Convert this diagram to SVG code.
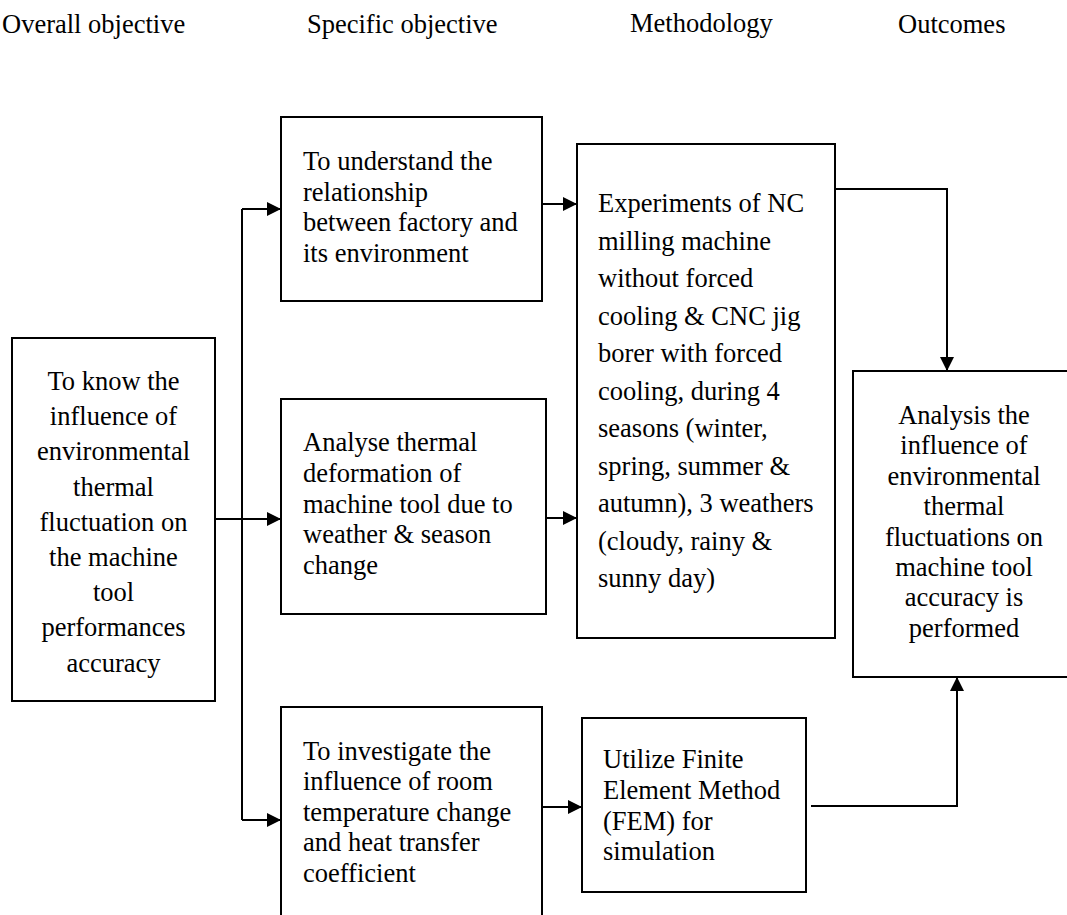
<svg xmlns="http://www.w3.org/2000/svg" width="1067" height="915" viewBox="0 0 1067 915">
  <style>
    text { font-family: "Liberation Serif", "Times New Roman", serif; font-size: 26.5px; fill: #000; }
    .box { fill: #fff; stroke: #000; stroke-width: 2; }
    .wire { fill: none; stroke: #000; stroke-width: 2; }
    .mid { text-anchor: middle; }
  </style>
  <defs>
    <marker id="arrow" markerUnits="userSpaceOnUse" markerWidth="15" markerHeight="15" refX="14" refY="7" orient="auto">
      <path d="M0,0 L14,7 L0,14 z" fill="#000"/>
    </marker>
  </defs>
  <rect width="1067" height="915" fill="#fff"/>

  <!-- column headings -->
  <g id="headings">
    <text x="2" y="33">Overall objective</text>
    <text x="307" y="33">Specific objective</text>
    <text x="630" y="32">Methodology</text>
    <text x="898" y="33">Outcomes</text>
  </g>

  <g id="overall">
    <rect class="box" x="12" y="338" width="203" height="363"/>
    <text class="mid" x="113.5" y="390">To know the</text>
    <text class="mid" x="113.5" y="425.2">influence of</text>
    <text class="mid" x="113.5" y="460.4">environmental</text>
    <text class="mid" x="113.5" y="495.6">thermal</text>
    <text class="mid" x="113.5" y="530.8">fluctuation on</text>
    <text class="mid" x="113.5" y="566">the machine</text>
    <text class="mid" x="113.5" y="601.2">tool</text>
    <text class="mid" x="113.5" y="636.4">performances</text>
    <text class="mid" x="113.5" y="671.6">accuracy</text>
  </g>

  <g id="spec-relationship">
    <rect class="box" x="281" y="117" width="261" height="184"/>
    <text x="303" y="170">To understand the</text>
    <text x="303" y="200.7">relationship</text>
    <text x="303" y="231.4">between factory and</text>
    <text x="303" y="262.1">its environment</text>
  </g>

  <g id="spec-deformation">
    <rect class="box" x="281" y="399" width="265" height="215"/>
    <text x="303" y="451">Analyse thermal</text>
    <text x="303" y="481.8">deformation of</text>
    <text x="303" y="512.6">machine tool due to</text>
    <text x="303" y="543.4">weather &amp; season</text>
    <text x="303" y="574.2">change</text>
  </g>

  <g id="spec-temperature">
    <path class="box" d="M281,920 V707 H542 V920"/>
    <text x="303" y="760">To investigate the</text>
    <text x="303" y="790.4">influence of room</text>
    <text x="303" y="820.8">temperature change</text>
    <text x="303" y="851.2">and heat transfer</text>
    <text x="303" y="881.6">coefficient</text>
  </g>

  <g id="method-experiments">
    <rect class="box" x="577" y="144" width="258" height="494"/>
    <text x="598" y="212">Experiments of NC</text>
    <text x="598" y="249.5">milling machine</text>
    <text x="598" y="287">without forced</text>
    <text x="598" y="324.5">cooling &amp; CNC jig</text>
    <text x="598" y="362">borer with forced</text>
    <text x="598" y="399.5">cooling, during 4</text>
    <text x="598" y="437">seasons (winter,</text>
    <text x="598" y="474.5">spring, summer &amp;</text>
    <text x="598" y="512">autumn), 3 weathers</text>
    <text x="598" y="549.5">(cloudy, rainy &amp;</text>
    <text x="598" y="587">sunny day)</text>
  </g>

  <g id="method-fem">
    <rect class="box" x="582" y="718" width="224" height="174"/>
    <text x="603" y="768">Utilize Finite</text>
    <text x="603" y="798.8">Element Method</text>
    <text x="603" y="829.6">(FEM) for</text>
    <text x="603" y="860.4">simulation</text>
  </g>

  <g id="outcome">
    <rect class="box" x="853" y="371" width="222" height="306"/>
    <text class="mid" x="964" y="424">Analysis the</text>
    <text class="mid" x="964" y="454.4">influence of</text>
    <text class="mid" x="964" y="484.8">environmental</text>
    <text class="mid" x="964" y="515.2">thermal</text>
    <text class="mid" x="964" y="545.6">fluctuations on</text>
    <text class="mid" x="964" y="576">machine tool</text>
    <text class="mid" x="964" y="606.4">accuracy is</text>
    <text class="mid" x="964" y="636.8">performed</text>
  </g>

  <g id="connectors">
    <path class="wire" d="M242,209 V820"/>
    <path class="wire" d="M215,519 H281" marker-end="url(#arrow)"/>
    <path class="wire" d="M242,209 H281" marker-end="url(#arrow)"/>
    <path class="wire" d="M242,820 H281" marker-end="url(#arrow)"/>
    <path class="wire" d="M542,204 H577" marker-end="url(#arrow)"/>
    <path class="wire" d="M546,518 H577" marker-end="url(#arrow)"/>
    <path class="wire" d="M542,807 H582" marker-end="url(#arrow)"/>
    <path class="wire" d="M835,189 H947 V371" marker-end="url(#arrow)"/>
    <path class="wire" d="M811,806 H957 V677" marker-end="url(#arrow)"/>
  </g>
</svg>
